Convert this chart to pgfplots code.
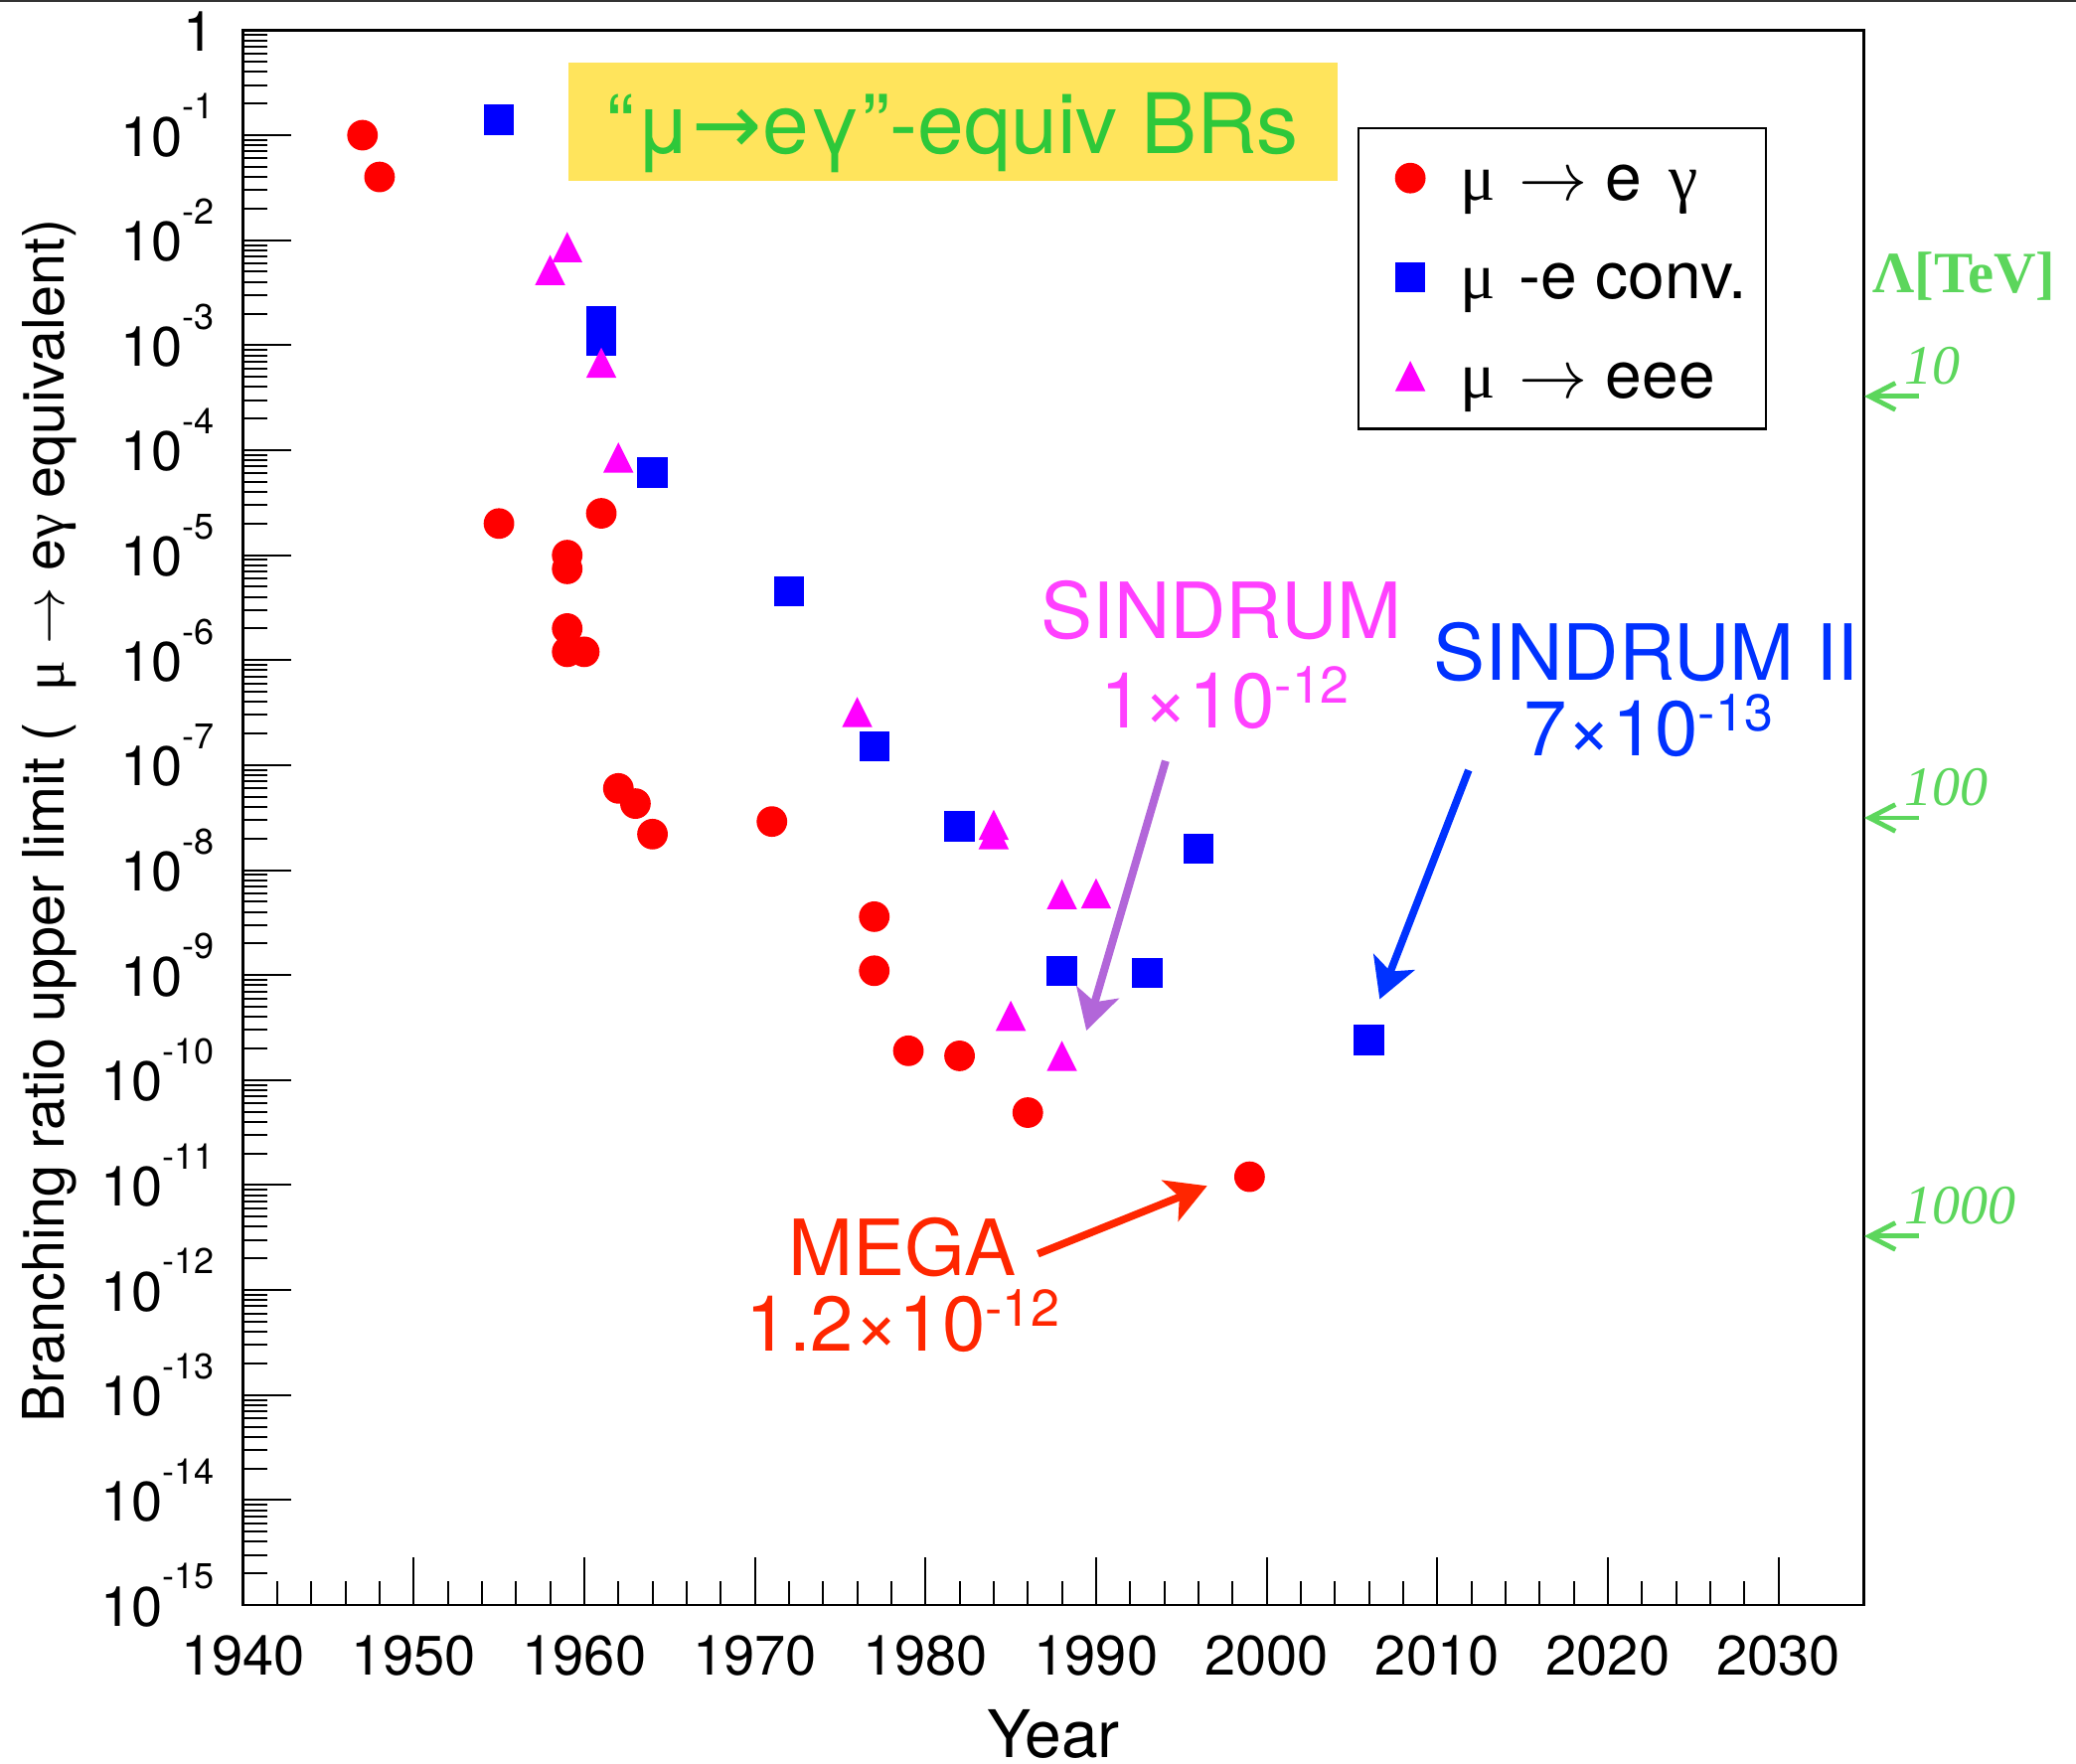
\documentclass[border=0pt]{standalone}
\usepackage{fontspec}
\setmainfont{TeX Gyre Heros}
\newfontfamily\symfont{Liberation Serif}
\newfontfamily\dejavu{DejaVu Sans}
\usepackage{pgfplots}
\usepackage{pgfplotstable}
\pgfplotsset{compat=1.18}
\usetikzlibrary{arrows.meta}

\definecolor{mred}{RGB}{255,0,0}
\definecolor{mblue}{RGB}{0,0,255}
\definecolor{mmag}{RGB}{255,0,255}
\definecolor{titlegreen}{RGB}{46,200,58}
\definecolor{titleyellow}{RGB}{255,228,92}
\definecolor{lamgreen}{RGB}{92,214,92}
\definecolor{sinpink}{RGB}{255,64,255}
\definecolor{sinarrow}{RGB}{178,102,217}
\definecolor{sintwoblue}{RGB}{0,50,255}
\definecolor{megared}{RGB}{255,38,0}

% upward triangle whose bounding box is centred on the data point
\pgfdeclareplotmark{uptri}{%
  \pgfpathmoveto{\pgfqpoint{0pt}{\pgfplotmarksize}}%
  \pgfpathlineto{\pgfqpoint{-\pgfplotmarksize}{-\pgfplotmarksize}}%
  \pgfpathlineto{\pgfqpoint{\pgfplotmarksize}{-\pgfplotmarksize}}%
  \pgfpathclose
  \pgfusepathqfill}

\newcommand{\tenpow}[1]{10\raisebox{9.3pt}{\fontsize{9}{10}\selectfont #1}}
\newcommand{\expo}[1]{\raisebox{6.25pt}{\fontsize{13}{13}\selectfont #1}}

% minor ticks 2..9 in every decade
\xdef\minorlist{2e-15}
\foreach \e in {-15,...,-1}{\foreach \m in {2,...,9}{\xdef\minorlist{\minorlist,\m e\e}}}

% mu -> e gamma limits
\pgfplotstableread{
year br
1947 1.0e-1
1948 4.0e-2
1955 2.0e-5
1959 1.0e-5
1959 7.4e-6
1959 2.0e-6
1959 1.2e-6
1960 1.2e-6
1961 2.5e-5
1962 6.0e-8
1963 4.3e-8
1964 2.2e-8
1971 2.9e-8
1977 3.6e-9
1977 1.1e-9
1979 1.9e-10
1982 1.7e-10
1986 4.9e-11
1999 1.2e-11
}\megdata

% mu-e conversion, mu->e gamma equivalent
\pgfplotstableread{
year br
1955 1.4e-1
1961 1.7e-3
1961 1.1e-3
1964 6.1e-5
1972 4.5e-6
1977 1.5e-7
1982 2.6e-8
1988 1.1e-9
1993 1.05e-9
1996 1.6e-8
2006 2.4e-10
}\convdata

% mu -> eee, mu->e gamma equivalent
\pgfplotstableread{
year br
1958 5.2e-3
1959 8.6e-3
1961 6.8e-4
1962 8.5e-5
1976 3.2e-7
1984 2.7e-8
1984 2.2e-8
1985 4.1e-10
1988 5.9e-9
1988 1.7e-10
1990 6.0e-9
}\eeedata

\begin{document}
\begin{tikzpicture}
\begin{axis}[
  at={(61.15pt,40pt)}, anchor=south west,
  scale only axis, width=407.7pt, height=396.15pt,
  xmin=1940, xmax=2035,
  ymode=log, log basis y=10, ymin=1e-15, ymax=1,
  xtick={1940,1950,...,2030}, minor x tick num=4,
  ytick={1e-15,1e-14,1e-13,1e-12,1e-11,1e-10,1e-9,1e-8,1e-7,1e-6,1e-5,1e-4,1e-3,1e-2,1e-1,1},
  minor ytick/.expanded={\minorlist},
  yticklabels={\tenpow{-15},\tenpow{-14},\tenpow{-13},\tenpow{-12},\tenpow{-11},\tenpow{-10},\tenpow{-9},\tenpow{-8},\tenpow{-7},\tenpow{-6},\tenpow{-5},\tenpow{-4},\tenpow{-3},\tenpow{-2},\tenpow{-1},1},
  tick pos=left, tick align=inside,
  major tick length=12pt, minor tick length=6pt,
  every tick/.style={black, line width=0.5pt},
  axis line style={line width=0.7pt},
  xticklabel style={font=\fontsize{14}{16}\selectfont, /pgf/number format/1000 sep=,
    /pgf/number format/assume math mode=true, anchor=base, inner sep=0pt, yshift=-17.5pt},
  yticklabel style={font=\fontsize{14}{16}\selectfont, anchor=base east, inner sep=0pt,
    xshift=-7.1pt, yshift=-5.25pt},
  xlabel={Year},
  xlabel style={font=\fontsize{16.5}{18}\selectfont, at={(axis description cs:0.5,0)},
    anchor=base, inner sep=0pt, yshift=-38.3pt},
  ylabel={Branching ratio upper limit (\ \ {\symfont μ} $\rightarrow$ e{\symfont γ} equivalent)},
  ylabel style={font=\fontsize{14.4}{16}\selectfont, at={(axis description cs:-0.1103,0.498)},
    anchor=base, inner sep=0pt},
  legend style={at={(0.6876,0.9384)}, anchor=north west, draw=black, line width=0.6pt,
    fill=white, inner xsep=9.2pt, inner ysep=1pt, row sep=1.15pt,
    font=\fontsize{16.5}{18}\selectfont,
    nodes={inner sep=0pt, anchor=base west, text height=17pt, text depth=6.75pt},
    /tikz/every odd column/.append style={column sep=8.7pt}},
  legend cell align=left,
  legend image code/.code={\draw[#1, line width=0.4pt] plot coordinates {(0pt,5.5pt)};},
]
\addplot[only marks, mark=*, color=mred, mark size=3.65pt] table[x=year, y=br] {\megdata};
\addlegendentry{\makebox[67.8pt][l]{{\symfont μ}\hspace{6pt}$\rightarrow$ e\hspace{2pt} {\symfont γ}}}
\addplot[only marks, mark=square*, color=mblue, mark size=3.6pt] table[x=year, y=br] {\convdata};
\addlegendentry{\makebox[67.8pt][l]{{\symfont μ}\hspace{6pt}-e conv.}}
\addplot[only marks, mark=uptri, color=mmag, mark size=3.8pt] table[x=year, y=br] {\eeedata};
\addlegendentry{\makebox[67.8pt][l]{{\symfont μ}\hspace{6pt}$\rightarrow$ eee}}
\end{axis}

% annotations, in picture pixel units measured from the top left corner
\begin{scope}[x=0.25pt, y=-0.25pt, yshift=443.75pt]
  \draw[line width=0.3pt, black!80] (0,1) -- (2089,1);
  % title box
  \fill[titleyellow] (572,62.6) rectangle (1345.6,182.5);
  \node[anchor=base, inner sep=0pt, text=titlegreen, font=\fontsize{21}{24}\selectfont]
    at (958.7,155) {“μ{\dejavu →}eγ”-equiv BRs};
  % SINDRUM
  \node[anchor=base, inner sep=0pt, text=sinpink, font=\fontsize{19.5}{22}\selectfont]
    at (1229,643) {SINDRUM};
  \node[anchor=base, inner sep=0pt, text=sinpink, font=\fontsize{19.5}{22}\selectfont]
    at (1232.5,732.5) {1×10\expo{-12}};
  \draw[sinarrow, line width=2pt, -{Stealth[length=10pt, width=11pt, inset=2.5pt]}]
    (1172.9,765.7) -- (1093.2,1037.1);
  % SINDRUM II
  \node[anchor=base, inner sep=0pt, text=sintwoblue, font=\fontsize{19.5}{22}\selectfont]
    at (1656.6,684.5) {SINDRUM II};
  \node[anchor=base, inner sep=0pt, text=sintwoblue, font=\fontsize{19.5}{22}\selectfont]
    at (1658.6,760.8) {7×10\expo{-13}};
  \draw[sintwoblue, line width=1.9pt, -{Stealth[length=10pt, width=11pt, inset=2.5pt]}]
    (1477.8,775) -- (1388.3,1005.5);
  % MEGA
  \node[anchor=base, inner sep=0pt, text=megared, font=\fontsize{19.5}{22}\selectfont]
    at (908,1283.3) {MEGA};
  \node[anchor=base, inner sep=0pt, text=megared, font=\fontsize{19.5}{22}\selectfont]
    at (908.6,1360) {1.2×10\expo{-12}};
  \draw[megared, line width=1.9pt, -{Stealth[length=10pt, width=11pt, inset=2.5pt]}]
    (1044.4,1261.7) -- (1214.7,1193.3);
  % new-physics scale
  \node[anchor=base west, inner sep=0pt, text=lamgreen, font=\symfont\bfseries\fontsize{14.7}{16}\selectfont]
    at (1884,295) {Λ[TeV]};
  \foreach \yy/\lab in {398.9/10, 823/100, 1243.9/1000} {
    \draw[lamgreen, line width=1.2pt, -{Straight Barb[length=6.5pt, width=6.7pt]}]
      (1931,\yy) -- (1876,\yy);
    \node[anchor=base west, inner sep=0pt, text=lamgreen, font=\symfont\itshape\fontsize{14}{16}\selectfont]
      at (1915.6,\yy-12.5) {\lab};
  }
\end{scope}
\pgfresetboundingbox
\useasboundingbox (0,0) rectangle (522.25pt,443.75pt);
\end{tikzpicture}
\end{document}
